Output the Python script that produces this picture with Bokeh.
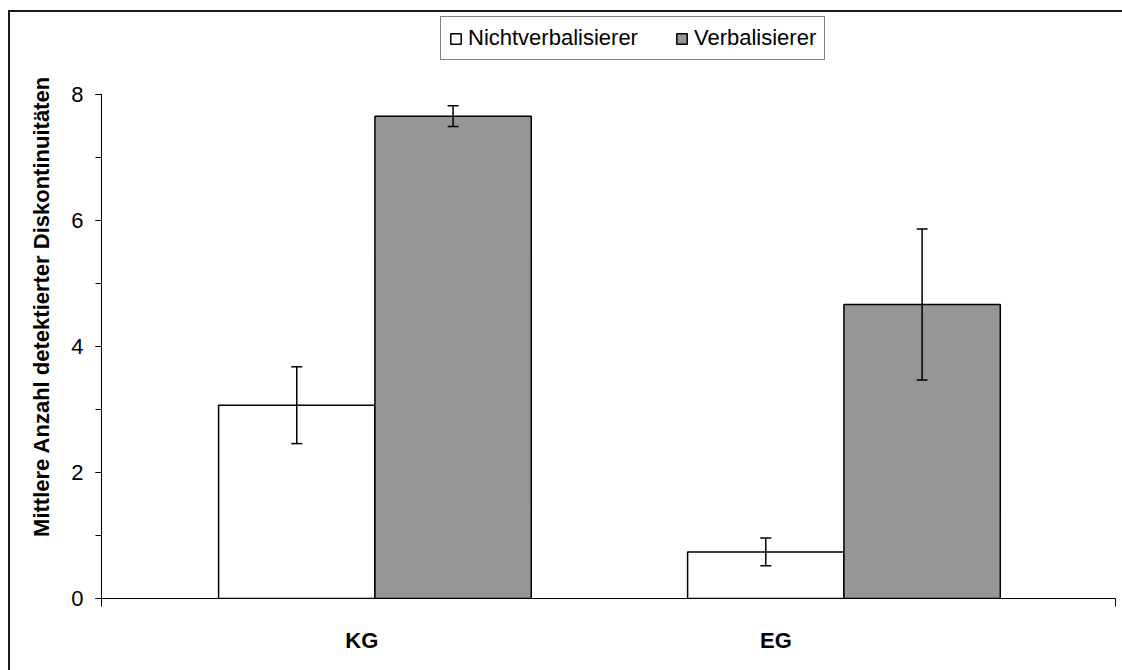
from bokeh.embed import file_html
from bokeh.resources import INLINE
from bokeh.plotting import figure
from bokeh.models import (
    ColumnDataSource, Range1d, Whisker, TeeHead,
    SingleIntervalTicker, FixedTicker,
)

# --- data -------------------------------------------------------------
groups = ["KG", "EG"]
series = ["Nichtverbalisierer", "Verbalisierer"]
nichtverbalisierer_mean = [3.07, 0.74]
nichtverbalisierer_err = [0.61, 0.22]
verbalisierer_mean = [7.66, 4.67]
verbalisierer_err = [0.165, 1.2]
y_label = "Mittlere Anzahl detektierter Diskontinuitäten"
y_ticks_major = 2
y_max = 8

FONT = "Liberation Sans"
FONT_SIZE = "22px"

# group i sits at x = i + 0.5; each bar is a third of a category wide
bar_w = 1 / 3
centers = [i + 0.5 for i in range(len(groups))]
x_start, x_end = -0.083, 2.079

# the plot frame reaches up to hold the legend; the axis itself stops at y_max
frame_top_px, axis_top_px, axis_bottom_px = 14, 94, 596
y_top = y_max * (axis_bottom_px - frame_top_px) / (axis_bottom_px - axis_top_px)

p = figure(
    width=1114, height=660,
    x_range=Range1d(x_start, x_end), y_range=Range1d(0, y_top),
    output_backend="svg", toolbar_location=None,
    min_border_left=91, min_border_right=9,
    min_border_top=2, min_border_bottom=74,
)
# chart-area frame (left and top edges)
p.margin = (10, 0, 0, 8)
p.styles = {"border-left": "2px solid #1a1a1a", "border-top": "2px solid #1a1a1a"}
p.outline_line_color = None
p.background_fill_color = "white"
p.border_fill_color = "white"
p.xgrid.visible = False
p.ygrid.visible = False


def add_series(means, errs, offset, fill, label):
    xs = [c + offset for c in centers]
    src = ColumnDataSource(dict(
        x=xs, top=means,
        upper=[m + e for m, e in zip(means, errs)],
        lower=[m - e for m, e in zip(means, errs)],
    ))
    p.vbar(x="x", top="top", bottom=0, width=bar_w, source=src,
           fill_color=fill, line_color="black", line_width=1.5,
           legend_label=label)
    w = Whisker(base="x", upper="upper", lower="lower", source=src,
                level="overlay", line_color="black", line_width=1.5,
                upper_head=TeeHead(size=11, line_color="black", line_width=1.5),
                lower_head=TeeHead(size=11, line_color="black", line_width=1.5))
    p.add_layout(w)


add_series(nichtverbalisierer_mean, nichtverbalisierer_err, -bar_w / 2, "white", series[0])
add_series(verbalisierer_mean, verbalisierer_err, bar_w / 2, "#969696", series[1])

# --- y axis -----------------------------------------------------------
ya = p.yaxis[0]
ya.bounds = (0, y_max)
ya.ticker = SingleIntervalTicker(interval=y_ticks_major, num_minor_ticks=2)
ya.axis_line_color = "black"
ya.major_tick_line_color = "black"
ya.minor_tick_line_color = "black"
ya.major_tick_in = 0
ya.major_tick_out = 6
ya.minor_tick_in = 0
ya.minor_tick_out = 6
ya.major_label_text_font = FONT
ya.major_label_text_font_size = FONT_SIZE
ya.major_label_text_color = "black"
ya.major_label_standoff = 12
ya.axis_label = y_label
ya.axis_label_text_font = FONT
ya.axis_label_text_font_size = FONT_SIZE
ya.axis_label_text_font_style = "bold"
ya.axis_label_text_color = "black"
ya.axis_label_standoff = 14

# --- x axis: group names as tick labels, end ticks as minor ticks -----
label_x = [0.472, 1.355]
xa = p.xaxis[0]
xa.bounds = (x_start, x_end)
xa.ticker = FixedTicker(ticks=label_x, minor_ticks=[x_start, x_end])
xa.major_label_overrides = {lx: g for lx, g in zip(label_x, groups)}
xa.axis_line_color = "black"
xa.major_tick_line_color = None
xa.major_tick_in = 0
xa.major_tick_out = 0
xa.minor_tick_line_color = "black"
xa.minor_tick_in = 0
xa.minor_tick_out = 8
xa.major_label_standoff = 21
xa.major_label_text_font = FONT
xa.major_label_text_font_size = FONT_SIZE
xa.major_label_text_font_style = "bold"
xa.major_label_text_color = "black"

# --- legend above the bars --------------------------------------------
lg = p.legend[0]
lg.orientation = "horizontal"
lg.location = (339, 538)
lg.label_text_font = FONT
lg.label_text_font_size = FONT_SIZE
lg.label_text_color = "black"
lg.glyph_width = 13
lg.glyph_height = 13
lg.label_standoff = 6
lg.spacing = 37
lg.padding = 8
lg.margin = 0
lg.border_line_color = "black"
lg.border_line_width = 1
lg.background_fill_color = "white"
lg.background_fill_alpha = 1

open("out.html", "w").write(file_html(p, INLINE))
